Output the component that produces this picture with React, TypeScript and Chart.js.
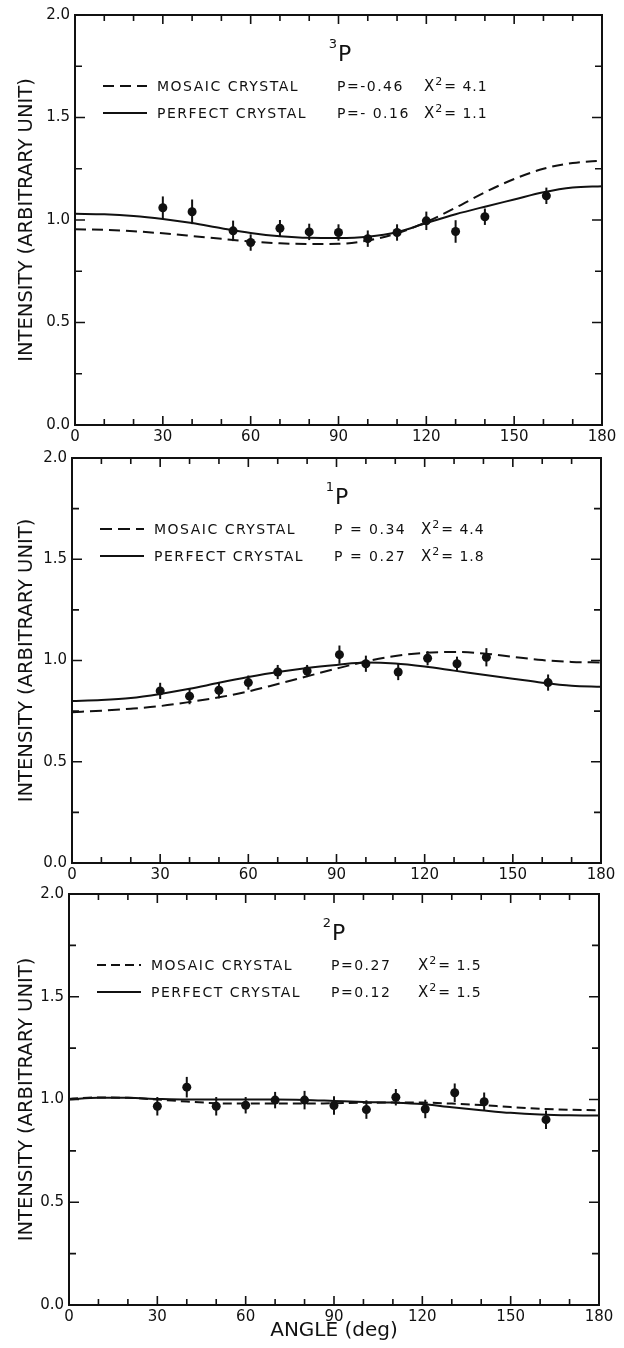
import { useEffect, useRef } from 'react';
import { Chart, registerables } from 'chart.js';

Chart.register(...registerables);

// ---------- data ----------
const ANGLE_TICK_VALUES = [0, 30, 60, 90, 120, 150, 180];
const ANGLE_TICK_LABELS = ['0', '30', '60', '90', '120', '150', '180'];
const INTENSITY_TICK_VALUES = [0, 0.5, 1, 1.5, 2];
const INTENSITY_TICK_LABELS = ['0.0', '0.5', '1.0', '1.5', '2.0'];

const LEGEND_NAMES = ['MOSAIC CRYSTAL', 'PERFECT CRYSTAL'];
const X_TITLE = 'ANGLE (deg)';
const Y_TITLE = 'INTENSITY (ARBITRARY UNIT)';

const CURVE_ANGLES = [0, 10, 20, 30, 40, 50, 60, 70, 80, 90, 100, 110, 120, 130, 140, 150, 160, 170, 180];

// ³P
const STATE_3P_ANGLES = [30, 40, 54, 60, 70, 80, 90, 100, 110, 120, 130, 140, 161];
const STATE_3P_VALUES = [1.06, 1.04, 0.947, 0.89, 0.96, 0.942, 0.939, 0.909, 0.939, 0.996, 0.944, 1.016, 1.118];
const STATE_3P_ERRORS = [0.055, 0.06, 0.05, 0.04, 0.04, 0.04, 0.04, 0.04, 0.04, 0.045, 0.055, 0.04, 0.04];
const STATE_3P_MOSAIC = [0.955, 0.952, 0.945, 0.935, 0.922, 0.908, 0.895, 0.886, 0.883, 0.884, 0.9, 0.935, 0.99, 1.06, 1.135, 1.2, 1.25, 1.278, 1.29];
const STATE_3P_PERFECT = [1.03, 1.028, 1.02, 1.005, 0.985, 0.96, 0.937, 0.921, 0.913, 0.912, 0.918, 0.94, 0.985, 1.028, 1.065, 1.1, 1.135, 1.158, 1.165];
const STATE_3P_P = ['P=-0.46', 'P=- 0.16'];
const STATE_3P_CHI = ['= 4.1', '= 1.1'];

// ¹P
const STATE_1P_ANGLES = [30, 40, 50, 60, 70, 80, 91, 100, 111, 121, 131, 141, 162];
const STATE_1P_VALUES = [0.85, 0.824, 0.853, 0.891, 0.943, 0.948, 1.029, 0.984, 0.943, 1.011, 0.984, 1.016, 0.891];
const STATE_1P_ERRORS = [0.04, 0.04, 0.04, 0.035, 0.035, 0.03, 0.045, 0.04, 0.04, 0.035, 0.035, 0.045, 0.04];
const STATE_1P_MOSAIC = [0.745, 0.752, 0.762, 0.775, 0.795, 0.818, 0.847, 0.884, 0.922, 0.96, 0.995, 1.022, 1.038, 1.042, 1.035, 1.018, 1.002, 0.993, 0.99];
const STATE_1P_PERFECT = [0.8, 0.805, 0.815, 0.835, 0.86, 0.89, 0.918, 0.943, 0.963, 0.978, 0.99, 0.985, 0.97, 0.95, 0.93, 0.91, 0.89, 0.875, 0.87];
const STATE_1P_P = ['P = 0.34', 'P = 0.27'];
const STATE_1P_CHI = ['= 4.4', '= 1.8'];

// ²P
const STATE_2P_ANGLES = [30, 40, 50, 60, 70, 80, 90, 101, 111, 121, 131, 141, 162];
const STATE_2P_VALUES = [0.967, 1.06, 0.967, 0.972, 0.997, 0.997, 0.971, 0.951, 1.011, 0.954, 1.033, 0.989, 0.902];
const STATE_2P_ERRORS = [0.045, 0.05, 0.045, 0.04, 0.04, 0.045, 0.045, 0.045, 0.04, 0.045, 0.045, 0.045, 0.045];
const STATE_2P_MOSAIC = [1.003, 1.01, 1.008, 1.0, 0.99, 0.982, 0.98, 0.98, 0.98, 0.982, 0.984, 0.985, 0.985, 0.98, 0.973, 0.963, 0.955, 0.95, 0.948];
const STATE_2P_PERFECT = [1.0, 1.008, 1.008, 1.003, 1.0, 1.0, 1.0, 1.0, 0.998, 0.993, 0.988, 0.985, 0.978, 0.962, 0.948, 0.935, 0.927, 0.923, 0.922];
const STATE_2P_P = ['P=0.27', 'P=0.12'];
const STATE_2P_CHI = ['= 1.5', '= 1.5'];

// ---------- layout / style ----------
const INK = '#111';
const PAGE_W = 624;
const FONT = 'DejaVu Sans';

type PanelSpec = {
  sup: string;
  angles: number[];
  values: number[];
  errors: number[];
  mosaic: number[];
  perfect: number[];
  pLabels: string[];
  chi: string[];
  canvasTop: number;
  canvasH: number;
  left: number;
  right: number;
  top: number;
  bottom: number;
  xTitle: boolean;
  dash: number[];
};

const PANELS: PanelSpec[] = [
  {
    sup: '3', angles: STATE_3P_ANGLES, values: STATE_3P_VALUES, errors: STATE_3P_ERRORS,
    mosaic: STATE_3P_MOSAIC, perfect: STATE_3P_PERFECT, pLabels: STATE_3P_P, chi: STATE_3P_CHI,
    canvasTop: 0, canvasH: 444, left: 75, right: 602, top: 15, bottom: 425, xTitle: false, dash: [11, 6],
  },
  {
    sup: '1', angles: STATE_1P_ANGLES, values: STATE_1P_VALUES, errors: STATE_1P_ERRORS,
    mosaic: STATE_1P_MOSAIC, perfect: STATE_1P_PERFECT, pLabels: STATE_1P_P, chi: STATE_1P_CHI,
    canvasTop: 444, canvasH: 436, left: 72, right: 601, top: 455, bottom: 863, xTitle: false, dash: [12, 6],
  },
  {
    sup: '2', angles: STATE_2P_ANGLES, values: STATE_2P_VALUES, errors: STATE_2P_ERRORS,
    mosaic: STATE_2P_MOSAIC, perfect: STATE_2P_PERFECT, pLabels: STATE_2P_P, chi: STATE_2P_CHI,
    canvasTop: 880, canvasH: 468, left: 69, right: 599, top: 893, bottom: 1305, xTitle: true, dash: [9, 5],
  },
];

function isOneOf(v: number, arr: number[]) {
  return arr.findIndex((a) => Math.abs(a - v) < 1e-6);
}

function makeDecorPlugin(spec: PanelSpec) {
  return {
    id: 'decor',
    afterDatasetsDraw(chart: any) {
      const ctx = chart.ctx as CanvasRenderingContext2D;
      const xs = chart.scales.x;
      const ys = chart.scales.y;
      const area = chart.chartArea;
      ctx.save();
      ctx.strokeStyle = INK;
      ctx.fillStyle = INK;
      ctx.lineCap = 'butt';

      // error bars
      const meta = chart.getDatasetMeta(2);
      ctx.lineWidth = 2;
      meta.data.forEach((pt: any, i: number) => {
        const v = spec.values[i];
        const e = spec.errors[i];
        ctx.beginPath();
        ctx.moveTo(pt.x, ys.getPixelForValue(v + e));
        ctx.lineTo(pt.x, ys.getPixelForValue(v - e));
        ctx.stroke();
      });

      // frame
      ctx.lineWidth = 2;
      ctx.strokeRect(area.left, area.top, area.right - area.left, area.bottom - area.top);

      // inward ticks
      ctx.lineWidth = 1.6;
      xs.ticks.forEach((t: any) => {
        const px = xs.getPixelForValue(t.value);
        const len = isOneOf(t.value, ANGLE_TICK_VALUES) >= 0 ? 9 : 6;
        ctx.beginPath();
        ctx.moveTo(px, area.bottom);
        ctx.lineTo(px, area.bottom - len);
        ctx.moveTo(px, area.top);
        ctx.lineTo(px, area.top + len);
        ctx.stroke();
      });
      ys.ticks.forEach((t: any) => {
        const py = ys.getPixelForValue(t.value);
        const len = isOneOf(t.value, INTENSITY_TICK_VALUES) >= 0 ? 10 : 7;
        ctx.beginPath();
        ctx.moveTo(area.left, py);
        ctx.lineTo(area.left + len, py);
        ctx.moveTo(area.right, py);
        ctx.lineTo(area.right - len, py);
        ctx.stroke();
      });

      // state label  (superscript + P)
      const pX = area.left + 263;
      ctx.textAlign = 'left';
      ctx.textBaseline = 'alphabetic';
      ctx.font = `22px "${FONT}"`;
      ctx.fillText('P', pX, area.top + 46);
      ctx.textAlign = 'right';
      ctx.font = `13px "${FONT}"`;
      ctx.fillText(spec.sup, pX - 1, area.top + 33);

      // legend
      const rows = [area.top + 71, area.top + 98];
      rows.forEach((ry, r) => {
        ctx.lineWidth = 2;
        ctx.setLineDash(r === 0 ? spec.dash : []);
        ctx.beginPath();
        ctx.moveTo(area.left + 28, ry);
        ctx.lineTo(area.left + 72, ry);
        ctx.stroke();
        ctx.setLineDash([]);
        ctx.textAlign = 'left';
        ctx.textBaseline = 'alphabetic';
        ctx.font = `14px "${FONT}"`;
        (ctx as any).letterSpacing = '1.5px';
        ctx.fillText(LEGEND_NAMES[r], area.left + 82, ry + 5);
        ctx.fillText(spec.pLabels[r], area.left + 262, ry + 5);
        const chiX = area.left + 349;
        (ctx as any).letterSpacing = '0px';
        ctx.font = `15px "${FONT}"`;
        ctx.fillText('Χ', chiX, ry + 5);
        const cw = ctx.measureText('Χ').width;
        ctx.font = `11px "${FONT}"`;
        ctx.fillText('2', chiX + cw + 1, ry - 1);
        ctx.font = `14px "${FONT}"`;
        (ctx as any).letterSpacing = '1px';
        ctx.fillText(spec.chi[r], chiX + cw + 10, ry + 5);
        (ctx as any).letterSpacing = '0px';
      });
      ctx.restore();
    },
  };
}

function buildConfig(spec: PanelSpec): any {
  const topPad = spec.top - spec.canvasTop;
  const xHeight = spec.canvasH - (spec.bottom - spec.canvasTop);
  return {
    type: 'scatter',
    data: {
      datasets: [
        {
          label: LEGEND_NAMES[0],
          data: CURVE_ANGLES.map((a, i) => ({ x: a, y: spec.mosaic[i] })),
          showLine: true,
          borderColor: INK,
          borderWidth: 2,
          borderDash: spec.dash,
          pointRadius: 0,
          cubicInterpolationMode: 'monotone',
          fill: false,
        },
        {
          label: LEGEND_NAMES[1],
          data: CURVE_ANGLES.map((a, i) => ({ x: a, y: spec.perfect[i] })),
          showLine: true,
          borderColor: INK,
          borderWidth: 2,
          pointRadius: 0,
          cubicInterpolationMode: 'monotone',
          fill: false,
        },
        {
          label: 'Measured',
          data: spec.angles.map((a, i) => ({ x: a, y: spec.values[i] })),
          showLine: false,
          pointRadius: 4.5,
          pointBackgroundColor: INK,
          pointBorderColor: INK,
          pointBorderWidth: 0,
        },
      ],
    },
    options: {
      animation: false,
      responsive: false,
      devicePixelRatio: 1,
      layout: { padding: { left: 0, right: PAGE_W - spec.right, top: topPad, bottom: 0 } },
      plugins: { legend: { display: false }, tooltip: { enabled: false } },
      scales: {
        x: {
          type: 'linear',
          position: 'bottom',
          min: 0,
          max: 180,
          grid: { display: false, drawTicks: false },
          border: { display: false },
          ticks: {
            stepSize: 10,
            autoSkip: false,
            maxRotation: 0,
            padding: 3,
            color: INK,
            font: { family: FONT, size: 15 },
            callback: (v: number) => {
              const i = isOneOf(v, ANGLE_TICK_VALUES);
              return i >= 0 ? ANGLE_TICK_LABELS[i] : '';
            },
          },
          title: {
            display: spec.xTitle,
            text: X_TITLE,
            color: INK,
            font: { family: FONT, size: 20 },
            padding: { top: 0, bottom: 5 },
          },
          afterFit: (s: any) => {
            s.height = xHeight;
          },
        },
        y: {
          type: 'linear',
          position: 'left',
          min: 0,
          max: 2,
          grid: { display: false, drawTicks: false },
          border: { display: false },
          ticks: {
            stepSize: 0.25,
            autoSkip: false,
            padding: 5,
            color: INK,
            font: { family: FONT, size: 15 },
            callback: (v: number) => {
              const i = isOneOf(v, INTENSITY_TICK_VALUES);
              return i >= 0 ? INTENSITY_TICK_LABELS[i] : '';
            },
          },
          title: {
            display: true,
            text: Y_TITLE,
            color: INK,
            font: { family: FONT, size: 19.5 },
            padding: { top: 15, bottom: 0 },
          },
          afterFit: (s: any) => {
            s.width = spec.left;
          },
        },
      },
    },
    plugins: [makeDecorPlugin(spec)],
  };
}

function Panel({ spec }: { spec: PanelSpec }) {
  const ref = useRef<HTMLCanvasElement | null>(null);
  useEffect(() => {
    if (!ref.current) return;
    const chart = new Chart(ref.current, buildConfig(spec));
    return () => chart.destroy();
  }, [spec]);
  return (
    <canvas
      ref={ref}
      width={PAGE_W}
      height={spec.canvasH}
      style={{ position: 'absolute', left: 0, top: spec.canvasTop, width: PAGE_W, height: spec.canvasH, display: 'block' }}
    />
  );
}

export default function App() {
  return (
    <div style={{ position: 'absolute', left: 0, top: 0, width: PAGE_W, height: 1348, background: '#fff' }}>
      {PANELS.map((p, i) => (
        <Panel key={i} spec={p} />
      ))}
    </div>
  );
}
